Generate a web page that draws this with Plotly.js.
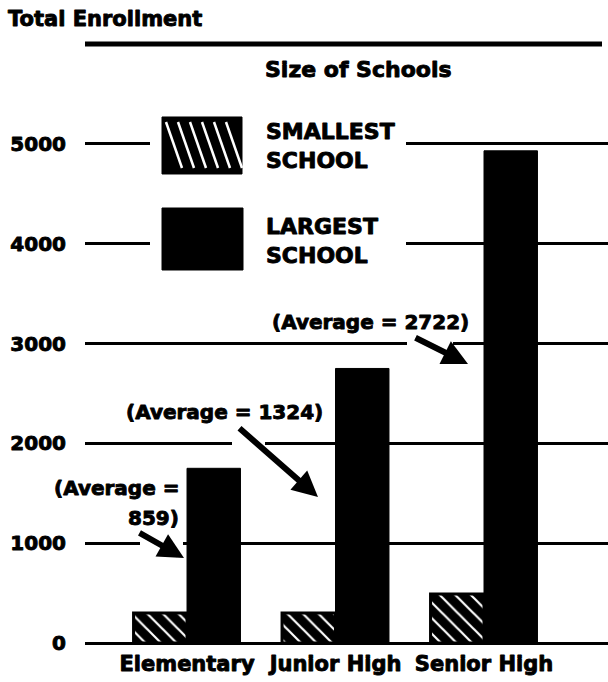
<!DOCTYPE html>
<html>
<head>
<meta charset="utf-8">
<script src="https://cdn.plot.ly/plotly-3.0.1.min.js"></script>
<style>
html,body{margin:0;padding:0;background:#fff;}
#chart{width:608px;height:682px;}
#chart svg text{paint-order:stroke;stroke:#000;stroke-width:0.9px;stroke-linejoin:round;}
</style>
</head>
<body>
<div id="chart"></div>
<script>
// ---- data ----
const categories = ['Elementary', 'Junior High', 'Senior High'];
const smallestSchool = [300, 300, 490];
const largestSchool = [1750, 2750, 4930];
const averageSize = [859, 1324, 2722];
const yTickVals = [0, 1000, 2000, 3000, 4000, 5000];
const yTickText = ['0', '1000', '2000', '3000', '4000', '5000'];
const seriesNames = ['SMALLEST<br>SCHOOL', 'LARGEST<br>SCHOOL'];

// ---- layout helpers (pixel -> paper / axis units) ----
const W = 608, H = 682, ML = 85, MR = 0, MT = 38, MB = 33;
const Y0PX = 643, PXPERUNIT = 599 / 6000;
const px = x => (x - ML) / (W - ML - MR);          // paper x
const py = y => (Y0PX - y) / PXPERUNIT;             // y-axis units
const FONT = 'DejaVu Sans';
const txt = (size) => ({family: FONT, size: size, color: 'black', weight: 'bold'});

const traces = [
  {
    type: 'bar', x: categories, y: smallestSchool, name: 'SMALLEST SCHOOL',
    marker: {color: 'black', line: {color: 'black', width: 3},
             pattern: {shape: '\\', bgcolor: 'black', fgcolor: 'white', size: 11, solidity: 0.2, fillmode: 'replace'}},
    showlegend: false, hoverinfo: 'skip'
  },
  {
    type: 'bar', x: categories, y: largestSchool, name: 'LARGEST SCHOOL',
    marker: {color: 'black', line: {color: 'black', width: 1}},
    showlegend: false, hoverinfo: 'skip'
  }
];

const shapes = [];
// top rule
shapes.push({type: 'line', xref: 'paper', yref: 'y', x0: 0, x1: px(602), y0: 6000, y1: 6000,
             line: {color: 'black', width: 5}, layer: 'above'});
// white cover behind legend
shapes.push({type: 'rect', xref: 'paper', yref: 'y', x0: px(150), x1: px(406), y0: py(278), y1: py(106),
             fillcolor: 'white', line: {width: 0}, layer: 'above'});
// gaps in grid lines next to arrows
[[407, 453, 3000], [232, 265, 2000], [140, 183, 1000]].forEach(g => {
  shapes.push({type: 'rect', xref: 'paper', yref: 'y', x0: px(g[0]), x1: px(g[1]), y0: g[2] - 45, y1: g[2] + 45,
               fillcolor: 'white', line: {width: 0}, layer: 'above'});
});
// legend swatches
shapes.push({type: 'rect', xref: 'paper', yref: 'y', x0: px(162), x1: px(242), y0: py(174), y1: py(117),
             fillcolor: 'black', line: {color: 'black', width: 1}, layer: 'above'});
[166, 178, 190, 202, 214, 226].forEach(x0 => {
  shapes.push({type: 'line', xref: 'paper', yref: 'y', x0: px(x0), x1: px(x0 + 16), y0: py(122), y1: py(168),
               line: {color: 'white', width: 2.5}, layer: 'above'});
});
shapes.push({type: 'rect', xref: 'paper', yref: 'y', x0: px(162), x1: px(243), y0: py(270), y1: py(208),
             fillcolor: 'black', line: {color: 'black', width: 1}, layer: 'above'});

const annotations = [
  {xref: 'paper', yref: 'y', x: px(358), y: py(70), xanchor: 'center', text: 'Size of Schools', showarrow: false, font: txt(22)},
  {xref: 'paper', yref: 'y', x: px(264), y: py(146), xanchor: 'left', text: seriesNames[0], showarrow: false,
   align: 'left', font: txt(22)},
  {xref: 'paper', yref: 'y', x: px(264), y: py(241), xanchor: 'left', text: seriesNames[1], showarrow: false,
   align: 'left', font: txt(22)},
  // average labels
  {xref: 'paper', yref: 'y', x: px(181), y: py(488), xanchor: 'right', text: '(Average =', showarrow: false, font: txt(20)},
  {xref: 'paper', yref: 'y', x: px(181), y: py(518), xanchor: 'right', text: averageSize[0] + ')', showarrow: false, font: txt(20)},
  {xref: 'paper', yref: 'y', x: px(224), y: py(412), xanchor: 'center', text: '(Average = ' + averageSize[1] + ')', showarrow: false, font: txt(20)},
  {xref: 'paper', yref: 'y', x: px(370), y: py(322), xanchor: 'center', text: '(Average = ' + averageSize[2] + ')', showarrow: false, font: txt(20)},
  // arrows
  {xref: 'paper', yref: 'y', x: px(184), y: py(558), ax: -46, ay: -26, text: '', showarrow: true,
   arrowhead: 2, arrowsize: 0.85, arrowwidth: 6, arrowcolor: 'black'},
  {xref: 'paper', yref: 'y', x: px(318), y: py(497), ax: -80, ay: -70, text: '', showarrow: true,
   arrowhead: 2, arrowsize: 0.85, arrowwidth: 6, arrowcolor: 'black'},
  {xref: 'paper', yref: 'y', x: px(468), y: py(364), ax: -54, ay: -27, text: '', showarrow: true,
   arrowhead: 2, arrowsize: 0.85, arrowwidth: 6, arrowcolor: 'black'}
];

const layout = {
  width: W, height: H,
  margin: {l: ML, r: MR, t: MT, b: MB, pad: 0},
  paper_bgcolor: 'white', plot_bgcolor: 'white',
  title: {text: 'Total Enrollment', x: 8 / W, xanchor: 'left', xref: 'container',
          y: 1 - 19 / H, yanchor: 'middle', yref: 'container', font: txt(21)},
  barmode: 'group', bargap: 0.28, bargroupgap: 0,
  showlegend: false,
  xaxis: {type: 'category', range: [-0.687, 2.835], showgrid: false, zeroline: false, showline: false,
          ticks: '', tickfont: txt(21), fixedrange: true},
  yaxis: {range: [-60, 6060], tickvals: yTickVals, ticktext: yTickText, showgrid: true, gridcolor: 'black',
          gridwidth: 3, zeroline: true, zerolinecolor: 'black', zerolinewidth: 3, showline: false,
          ticks: '', ticklabelstandoff: 18, tickfont: txt(20), fixedrange: true},
  shapes: shapes,
  annotations: annotations
};

Plotly.newPlot('chart', traces, layout, {displayModeBar: false, staticPlot: true});
</script>
</body>
</html>
